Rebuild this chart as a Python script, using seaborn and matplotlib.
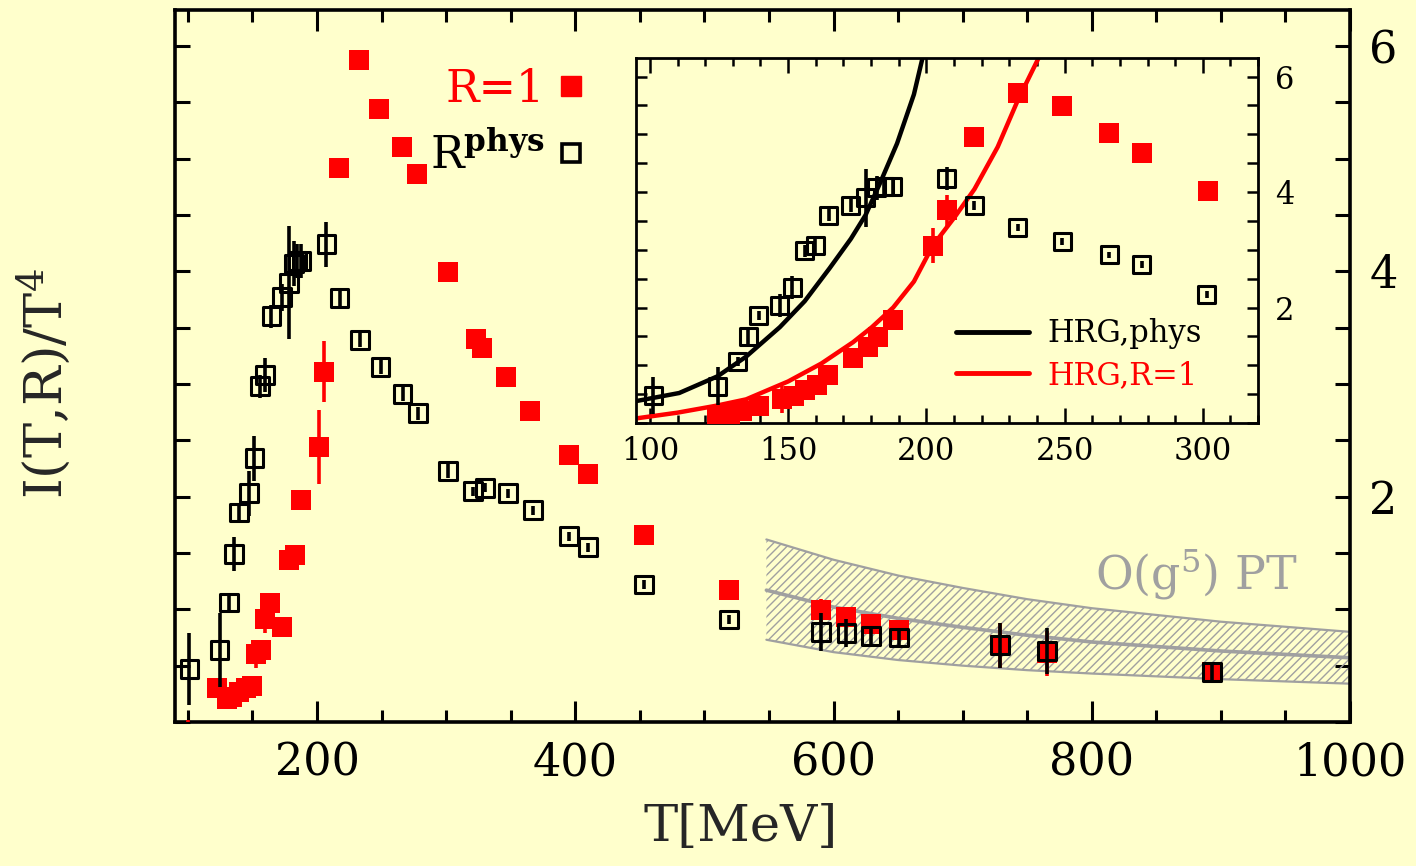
import numpy as np
import pandas as pd
import matplotlib
matplotlib.use("Agg")
import matplotlib.pyplot as plt
import seaborn as sns
from matplotlib.ticker import MultipleLocator, FuncFormatter, FixedLocator
from matplotlib.lines import Line2D

# ---------------- data ----------------
# R = R_phys lattice points (main panel and inset)
T_phys = [101.2, 124.5, 131.8, 135.6, 139.4, 147, 151.5, 156, 159.8, 164.7,
          172.7, 178, 182, 184.8, 187.9, 207.3, 217.4, 233, 249.2, 266.2,
          277.9, 301.5, 321, 330, 348, 367, 395, 410, 453, 519,
          590, 610, 629, 651, 729, 765, 893]
I_phys = [0.47, 0.64, 1.06, 1.49, 1.86, 2.03, 2.34, 2.98, 3.08, 3.60,
          3.77, 3.90, 4.07, 4.09, 4.09, 4.24, 3.76, 3.39, 3.15, 2.91,
          2.74, 2.23, 2.05, 2.08, 2.03, 1.88, 1.65, 1.55, 1.22, 0.91,
          0.80, 0.79, 0.76, 0.75, 0.68, 0.63, 0.44]
E_phys = [0.32, 0.33, 0.08, 0.15, 0.08, 0.20, 0.20, 0.10, 0.15, 0.10,
          0.12, 0.50, 0.20, 0.15, 0.15, 0.20, 0.08, 0.06, 0.06, 0.06,
          0.06, 0.06, 0.04, 0.04, 0.04, 0.04, 0.04, 0.04, 0.04, 0.04,
          0.17, 0.12, 0.08, 0.08, 0.20, 0.20, 0.08]

# R = 1 points as drawn in the main panel
T_r1_main = [100, 122.5, 130, 134, 139.5, 145, 150, 152.7, 156.6, 159.7,
             163.6, 172.9, 178.3, 183, 187.6, 201.6, 205.4, 217, 232.6, 248,
             266, 277.5, 301.6, 323, 328, 346, 365, 395, 410, 453,
             519, 590, 610, 629, 651, 729, 765, 893]
I_r1_main = [-0.12, 0.30, 0.20, 0.22, 0.27, 0.30, 0.32, 0.60, 0.64, 0.91,
             1.06, 0.84, 1.44, 1.48, 1.97, 2.44, 3.11, 4.92, 5.88, 5.44,
             5.10, 4.86, 3.99, 3.40, 3.32, 3.06, 2.76, 2.37, 2.20, 1.66,
             1.17, 0.99, 0.93, 0.87, 0.82, 0.68, 0.61, 0.44]
E_r1_main = [0.14, 0.05, 0.05, 0.05, 0.05, 0.05, 0.05, 0.12, 0.08, 0.12,
             0.08, 0.05, 0.08, 0.05, 0.05, 0.33, 0.27, 0.08, 0.05, 0.05,
             0.05, 0.05, 0.05, 0.05, 0.05, 0.05, 0.05, 0.05, 0.05, 0.05,
             0.05, 0.10, 0.05, 0.05, 0.05, 0.20, 0.20, 0.05]

# R = 1 points as drawn in the inset
T_r1_in = [124.2, 128.8, 133.3, 139.4, 147.7, 152.3, 156, 160.6, 164.4,
           173.5, 178.8, 182.6, 187.9, 202.3, 207.3, 217.4, 233, 249.2, 266.2,
           277.9, 301.8]
I_r1_in = [0.10, 0.15, 0.21, 0.30, 0.41, 0.47, 0.58, 0.66, 0.83,
           1.12, 1.32, 1.49, 1.78, 3.07, 3.68, 4.95, 5.72, 5.49, 5.02,
           4.68, 4.02]
E_r1_in = [0.05, 0.05, 0.05, 0.05, 0.23, 0.05, 0.05, 0.05, 0.10,
           0.05, 0.05, 0.05, 0.05, 0.30, 0.26, 0.10, 0.05, 0.05, 0.08,
           0.05, 0.05]

T_hrg_phys = [95, 110.6, 124.5, 134.8, 147, 156, 165, 172.7, 178, 183.3, 189.4, 195.5, 198.8]
I_hrg_phys = [0.38, 0.52, 0.81, 1.15, 1.66, 2.11, 2.68, 3.19, 3.60, 4.16, 4.84, 5.69, 6.36]

T_hrg_r1 = [95, 110, 124, 134.8, 150, 162, 173.5, 180.3, 188, 195.5, 202.3, 210.6, 217.4, 225.8, 233, 241]
I_hrg_r1 = [0.08, 0.18, 0.30, 0.41, 0.72, 1.03, 1.40, 1.66, 2.00, 2.45, 3.07, 3.59, 4.05, 4.78, 5.58, 6.36]

T_pt = [548, 600, 650, 700, 750, 800, 900, 1000]
I_pt_mid = [1.17, 1.02, 0.92, 0.84, 0.77, 0.71, 0.63, 0.57]
I_pt_hi = [1.62, 1.44, 1.30, 1.19, 1.09, 1.01, 0.89, 0.80]
I_pt_lo = [0.73, 0.62, 0.55, 0.50, 0.46, 0.43, 0.38, 0.34]

main_xticks = [200, 400, 600, 800, 1000]
inset_xticks = [100, 150, 200, 250, 300]
y_labels = [2, 4, 6]
inset_Tmax = 315

# ---------------- style ----------------
BG = "#FFFFCC"
RED = "#FF0000"
GRAY = "#a0a0a0"
sns.set_theme(style="ticks")
plt.rcParams["font.family"] = ["DejaVu Serif"]
plt.rcParams["mathtext.fontset"] = "dejavuserif"
plt.rcParams["hatch.color"] = GRAY
plt.rcParams["hatch.linewidth"] = 1.0

df_phys = pd.DataFrame({"T": T_phys, "I": I_phys, "E": E_phys})
df_r1m = pd.DataFrame({"T": T_r1_main, "I": I_r1_main, "E": E_r1_main})
df_r1i = pd.DataFrame({"T": T_r1_in, "I": I_r1_in, "E": E_r1_in})
df_hp = pd.DataFrame({"T": T_hrg_phys, "I": I_hrg_phys})
df_hr = pd.DataFrame({"T": T_hrg_r1, "I": I_hrg_r1})
df_pt = pd.DataFrame({"T": T_pt, "mid": I_pt_mid, "hi": I_pt_hi, "lo": I_pt_lo})

fig = plt.figure(figsize=(14.16, 8.66), dpi=100, facecolor=BG)
ax = fig.add_axes([0.1236, 0.1663, 0.8298, 0.8222])
axin = fig.add_axes([0.4492, 0.5115, 0.4393, 0.4215])

def yfmt(v, p):
    r = int(round(v))
    if abs(v - r) < 1e-6 and r in y_labels:
        return str(r)
    return ""

def draw_points(a, df_r, df_p, s_r, s_p):
    a.errorbar(df_r["T"], df_r["I"], yerr=df_r["E"], fmt="none", ecolor=RED,
               elinewidth=2.6, capsize=0, zorder=3)
    sns.scatterplot(data=df_r, x="T", y="I", ax=a, marker="s", s=s_r, color=RED,
                    edgecolor=RED, linewidth=0, zorder=4, legend=False)
    a.errorbar(df_p["T"], df_p["I"], yerr=df_p["E"], fmt="none", ecolor="black",
               elinewidth=2.6, capsize=0, zorder=5)
    sns.scatterplot(data=df_p, x="T", y="I", ax=a, marker="s", s=s_p, color="black",
                    edgecolor="black", linewidth=2.2, zorder=6, legend=False)
    a.collections[-1].set_facecolor("none")

# ---------------- main axes ----------------
ax.set_facecolor(BG)
ax.fill_between(df_pt["T"], df_pt["lo"], df_pt["hi"], facecolor="none",
                edgecolor=GRAY, hatch="////", linewidth=0, zorder=1)
for col, lw in (("hi", 1.6), ("lo", 1.6), ("mid", 2.6)):
    sns.lineplot(data=df_pt, x="T", y=col, ax=ax, color=GRAY, linewidth=lw,
                 sort=False, estimator=None, zorder=2, legend=False)

draw_points(ax, df_r1m, df_phys, 210, 165)

ax.set_xlim(90, 1000)
ax.set_ylim(0, 6.32)
ax.xaxis.set_major_locator(FixedLocator(main_xticks))
ax.xaxis.set_minor_locator(MultipleLocator(50))
ax.yaxis.set_major_locator(MultipleLocator(0.5))
ax.yaxis.set_major_formatter(FuncFormatter(yfmt))
ax.tick_params(axis="both", which="both", direction="in", top=True, right=True,
               width=2.2, colors="black")
ax.tick_params(axis="x", which="major", length=15, labelsize=32, pad=14)
ax.tick_params(axis="x", which="minor", length=8.5)
ax.tick_params(axis="y", which="major", length=10.5, labelsize=32,
               labelleft=False, labelright=True, pad=14)
for sp in ax.spines.values():
    sp.set_linewidth(2.6)
    sp.set_color("black")
ax.set_xlabel("T[MeV]", fontsize=37, va="center")
ax.xaxis.set_label_coords(0.481, -0.148)
ax.set_ylabel("I(T,R)/T$^4$", fontsize=38, va="center")
ax.yaxis.set_label_coords(-0.112, 0.475)

ax.text(881, 1.31, "O(g$^5$) PT", color=GRAY, fontsize=33, ha="center", va="center")

h_r1 = Line2D([], [], linestyle="none", marker="s", markersize=14.5,
              markerfacecolor=RED, markeredgecolor=RED)
h_ph = Line2D([], [], linestyle="none", marker="s", markersize=12.5,
              markerfacecolor="none", markeredgecolor="black", markeredgewidth=2.6)
ax.legend([h_r1, h_ph], ["R=1", r"R$^{\mathbf{phys}}$"], loc="upper left",
          bbox_to_anchor=(0.183, 0.975), markerfirst=False, frameon=False,
          fontsize=32, labelcolor=[RED, "black"], handlelength=0.8,
          handletextpad=0.2, labelspacing=0.5)

# ---------------- inset ----------------
axin.set_facecolor(BG)
sns.lineplot(data=df_hp, x="T", y="I", ax=axin, color="black", linewidth=3.2,
             sort=False, estimator=None, zorder=2, legend=False)
sns.lineplot(data=df_hr, x="T", y="I", ax=axin, color=RED, linewidth=3.2,
             sort=False, estimator=None, zorder=2, legend=False)
draw_points(axin, df_r1i, df_phys[df_phys["T"] < inset_Tmax], 210, 150)

axin.set_xlim(95, 320)
axin.set_ylim(0, 6.32)
axin.xaxis.set_major_locator(FixedLocator(inset_xticks))
axin.xaxis.set_minor_locator(MultipleLocator(10))
axin.yaxis.set_major_locator(MultipleLocator(0.5))
axin.yaxis.set_major_formatter(FuncFormatter(yfmt))
axin.tick_params(axis="both", which="both", direction="in", top=True, right=True,
                 width=1.8, colors="black")
axin.tick_params(axis="x", which="major", length=11, labelsize=22, pad=9)
axin.tick_params(axis="x", which="minor", length=6)
axin.tick_params(axis="y", which="major", length=8, labelsize=22,
                 labelleft=False, labelright=True, pad=12)
for sp in axin.spines.values():
    sp.set_linewidth(2.0)
    sp.set_color("black")
axin.set_xlabel("")
axin.set_ylabel("")

h_l1 = Line2D([], [], color="black", linewidth=3.5)
h_l2 = Line2D([], [], color=RED, linewidth=3.5)
axin.legend([h_l1, h_l2], ["HRG,phys", "HRG,R=1"], loc="lower left",
            bbox_to_anchor=(0.47, 0.012), frameon=False, fontsize=22,
            labelcolor=["black", RED], handlelength=2.4, handletextpad=0.6,
            labelspacing=0.35)

fig.savefig("out.png", dpi=100, facecolor=BG)
